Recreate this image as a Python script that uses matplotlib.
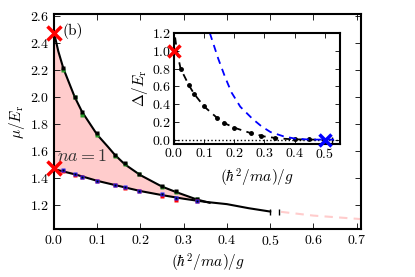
import matplotlib
matplotlib.use("Agg")
import matplotlib.pyplot as plt

plt.rcParams['font.family'] = ['cmr10', 'DejaVu Serif']
plt.rcParams['mathtext.fontset'] = 'cm'
plt.rcParams['axes.formatter.use_mathtext'] = True
plt.rcParams['font.size'] = 10

# main panel: chemical potential, upper / lower branches
x_up_line = [0.0, 0.01, 0.022, 0.048, 0.065, 0.1, 0.125, 0.141, 0.164, 0.2, 0.25, 0.282, 0.33, 0.36]
y_up_line = [2.48, 2.34, 2.21, 2.00, 1.89, 1.72, 1.63, 1.57, 1.50, 1.42, 1.335, 1.295, 1.24, 1.215]
y_lo_fill = [1.465, 1.455, 1.44, 1.422, 1.41, 1.378, 1.36, 1.348, 1.33, 1.302, 1.272, 1.254, 1.232, 1.215]
x_lo_line = [0.0, 0.05, 0.1, 0.15, 0.2, 0.25, 0.3, 0.35, 0.4, 0.45, 0.5]
y_lo_line = [1.465, 1.425, 1.378, 1.340, 1.302, 1.272, 1.245, 1.222, 1.205, 1.175, 1.15]
x_tail = [0.525, 0.6, 0.71]
y_tail = [1.148, 1.12, 1.094]

x_pts = [0.022, 0.048, 0.065, 0.099, 0.141, 0.164, 0.197, 0.249, 0.282, 0.33]
y_up_pts = [2.213, 2.002, 1.891, 1.731, 1.570, 1.509, 1.430, 1.341, 1.299, 1.242]
y_up_green = [2.20, 2.00, 1.87, 1.72, 1.562, 1.50, 1.425, 1.335, 1.293, 1.245]
y_lo_pts = [1.459, 1.427, 1.410, 1.380, 1.348, 1.331, 1.304, 1.281, 1.250, 1.232]
y_lo_red = [1.452, 1.42, 1.405, 1.375, 1.345, 1.325, 1.30, 1.265, 1.238, 1.228]

x_cross = [0.0, 0.0]
y_cross = [2.475, 1.476]

# inset: gap
xi_pts = [0.022, 0.05, 0.067, 0.1, 0.144, 0.167, 0.2, 0.256, 0.29, 0.335, 0.4, 0.447]
yi_pts = [0.80, 0.61, 0.515, 0.373, 0.242, 0.186, 0.134, 0.072, 0.04, 0.018, 0.003, 0.002]
xi_fit = [0.004, 0.01, 0.022, 0.05, 0.067, 0.1, 0.144, 0.167, 0.2, 0.25, 0.3, 0.35, 0.4, 0.45, 0.5]
yi_fit = [1.15, 1.0, 0.80, 0.61, 0.515, 0.373, 0.242, 0.186, 0.134, 0.078, 0.035, 0.012, 0.003, 0.0, 0.0]
xi_blue = [0.119, 0.147, 0.17, 0.191, 0.22, 0.26, 0.29, 0.32, 0.363, 0.4, 0.45, 0.5, 0.55]
yi_blue = [1.20, 0.91, 0.70, 0.53, 0.37, 0.235, 0.15, 0.085, 0.037, 0.012, 0.0, 0.0, 0.0]

fig = plt.figure(figsize=(4.15, 2.77), dpi=100)
ax = fig.add_axes([0.130, 0.173, 0.740, 0.776])

ax.fill_between(x_up_line, y_up_line, y_lo_fill, color='#ffcccc', lw=0)
ax.plot(x_up_line, y_up_line, color='k', lw=1.5)
ax.plot(x_lo_line, y_lo_line, color='k', lw=1.5, marker='|', markevery=[10], ms=5)
ax.plot([0.52], [1.147], color='k', marker='|', ms=4, ls='none')
ax.plot(x_tail, y_tail, color='#ffcccc', lw=1.5, ls='--', dashes=(4, 3))

ax.plot(x_pts, y_up_green, 's', color='#2ca02c', ms=3.5, mec='none')
ax.plot(x_pts, y_up_pts, 's', color='k', ms=2.2, mec='none')
ax.plot(x_pts, y_lo_red, 's', color='red', ms=3.5, mec='none')
ax.plot(x_pts, y_lo_pts, 's', color='#2222ff', ms=3.5, mec='none')
ax.plot(x_pts, y_lo_pts, 's', color='k', ms=1.8, mec='none')
ax.plot(x_cross, y_cross, 'x', color='red', ms=10, mew=2.5, clip_on=False, zorder=5)

ax.text(0.019, 2.49, '(b)', fontsize=11, va='center')
ax.text(0.008, 1.565, '$na=1$', fontsize=13, va='center', color='#333333')

ax.set_xlim(0, 0.71)
ax.set_ylim(1.02, 2.615)
ax.set_xticks([0.0, 0.1, 0.2, 0.3, 0.4, 0.5, 0.6, 0.7])
ax.set_yticks([1.2, 1.4, 1.6, 1.8, 2.0, 2.2, 2.4, 2.6])
ax.tick_params(direction='in', top=True, right=True, length=4, width=0.6, labelright=False)
for s in ax.spines.values():
    s.set_linewidth(1.5)
ax.set_xlabel(r'$(\hbar^2/ma)/g$', fontsize=11, labelpad=3)
ax.set_ylabel(r'$\mu/E_{\rm r}$', fontsize=11, labelpad=2)

# inset
axi = fig.add_axes([0.419, 0.480, 0.400, 0.401])
axi.axhline(0, color='k', ls=':', lw=1)
axi.plot(xi_fit, yi_fit, color='k', ls='--', lw=1.3, dashes=(4, 3))
axi.plot(xi_pts, yi_pts, 'o', color='k', ms=2.5)
axi.plot([0.525], [0.0], '|', color='k', ms=4)
axi.plot(xi_blue, yi_blue, color='blue', ls='--', lw=1.3, dashes=(4, 3))
axi.plot([0.0], [1.0], 'x', color='red', ms=9, mew=2.5, clip_on=False, zorder=5)
axi.plot([0.5], [0.0], 'x', color='blue', ms=9, mew=2.5, clip_on=False, zorder=5)
axi.set_xlim(0, 0.55)
axi.set_ylim(-0.05, 1.2)
axi.set_xticks([0.0, 0.1, 0.2, 0.3, 0.4, 0.5])
axi.set_yticks([0.0, 0.2, 0.4, 0.6, 0.8, 1.0, 1.2])
axi.tick_params(direction='in', top=True, right=True, length=3.5, width=0.6, pad=2)
for s in axi.spines.values():
    s.set_linewidth(1.5)
axi.set_xlabel(r'$(\hbar^2/ma)/g$', fontsize=11, labelpad=4)
axi.set_ylabel(r'$\Delta/E_{\rm r}$', fontsize=11, labelpad=1)

fig.savefig('out.png', dpi=100)
